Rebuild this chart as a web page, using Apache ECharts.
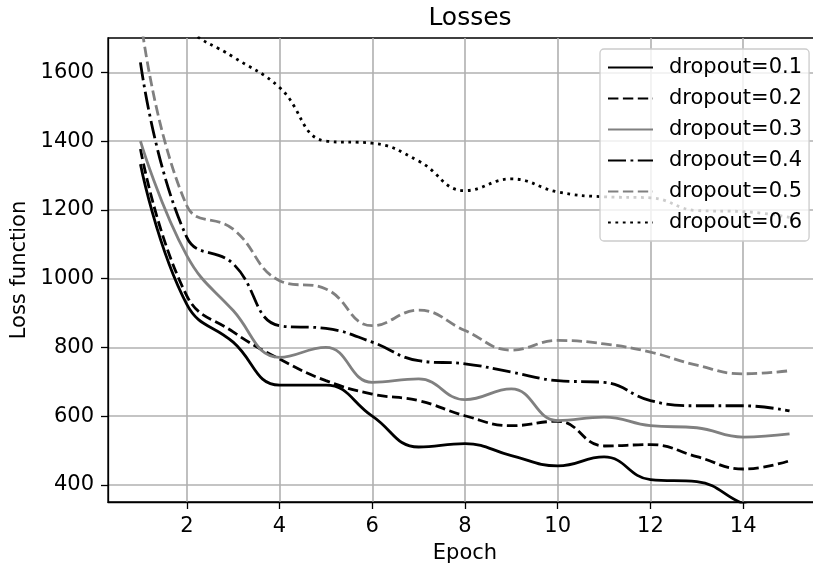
<!DOCTYPE html>
<html>
<head>
<meta charset="utf-8">
<script src="https://cdn.jsdelivr.net/npm/echarts@6/dist/echarts.min.js"></script>
<style>
  html, body { margin: 0; padding: 0; background: #fff; }
  #chart { width: 813px; height: 571px; }
</style>
</head>
<body>
<div id="chart"></div>
<script>
// values, one per epoch
const epochs = [1, 2, 3, 4, 5, 6, 7, 8, 9, 10, 11, 12, 13, 14, 15];
const loss01 = [1333, 925, 815, 690, 690, 600, 510, 520, 485, 455, 481, 415, 409, 345, 300];
const loss02 = [1377, 950, 845, 766, 703, 664, 645, 601, 572, 585, 513, 517, 482, 446, 470];
const loss03 = [1400, 1067, 907, 771, 800, 698, 708, 648, 679, 587, 597, 572, 566, 539, 548];
const loss04 = [1629, 1120, 1043, 863, 855, 815, 761, 752, 728, 703, 698, 645, 630, 630, 615];
const loss05 = [1760, 1212, 1144, 994, 970, 863, 908, 849, 792, 820, 810, 786, 748, 723, 732];
const loss06 = [1900, 1730, 1645, 1556, 1400, 1394, 1342, 1256, 1290, 1252, 1238, 1235, 1198, 1195, 1178];
const xTicks = [2, 4, 6, 8, 10, 12, 14];
const yTicks = [400, 600, 800, 1000, 1200, 1400, 1600];

const FONT = "DejaVu Sans";
const LW = 2.8;

function pairs(vals) {
    return epochs.map((e, i) => [e, vals[i]]);
}

function makeSeries(name, vals, color, dash) {
    return {
        name: name,
        type: 'line',
        data: pairs(vals),
        smooth: 0.45,
        symbol: 'none',
        clip: true,
        lineStyle: { color: color, width: LW, type: dash, cap: 'butt' },
        itemStyle: { color: color }
    };
}

const chart = echarts.init(document.getElementById('chart'));

const option = {
    animation: false,
    backgroundColor: '#fff',
    textStyle: { fontFamily: FONT },
    title: {
        text: 'Losses',
        left: 465,
        top: 1,
        textAlign: 'center',
        textStyle: { fontFamily: FONT, fontSize: 25, fontWeight: 'normal', color: '#000' }
    },
    grid: {
        left: 108,
        top: 38,
        width: 714,
        height: 464,
        show: true,
        borderColor: '#000',
        borderWidth: 1.3,
        backgroundColor: 'transparent',
        containLabel: false,
        outerBoundsMode: 'none'
    },
    legend: {
        orient: 'vertical',
        left: 600,
        top: 49,
        itemWidth: 45,
        itemHeight: 21,
        itemGap: 10,
        padding: [8, 7, 8, 7],
        backgroundColor: 'rgba(255,255,255,0.8)',
        borderColor: '#cccccc',
        borderWidth: 1.3,
        borderRadius: 4,
        // hide the marker circle, keep the line sample
        itemStyle: { color: 'rgba(0,0,0,0)', borderColor: 'rgba(0,0,0,0)', borderWidth: 0 },
        textStyle: { fontFamily: FONT, fontSize: 21, color: '#000', lineHeight: 21, padding: [0, 0, 0, 11] },
        data: ['dropout=0.1', 'dropout=0.2', 'dropout=0.3', 'dropout=0.4', 'dropout=0.5', 'dropout=0.6']
    },
    xAxis: {
        type: 'value',
        min: 0.3,
        max: 15.7,
        name: 'Epoch',
        nameLocation: 'middle',
        nameGap: 41,
        nameTextStyle: { fontFamily: FONT, fontSize: 21, color: '#000' },
        axisLine: { show: true, onZero: false, lineStyle: { color: '#000', width: 1.3 } },
        axisTick: { show: true, length: 7, customValues: xTicks, lineStyle: { color: '#000', width: 1.3 } },
        axisLabel: { customValues: xTicks, margin: 14, fontFamily: FONT, fontSize: 21, color: '#000' },
        splitLine: { show: true, lineStyle: { color: '#b0b0b0', width: 1.6 } }
    },
    yAxis: {
        type: 'value',
        min: 350,
        max: 1700,
        name: 'Loss function',
        nameLocation: 'middle',
        nameGap: 78,
        nameTextStyle: { fontFamily: FONT, fontSize: 21, color: '#000' },
        axisLine: { show: true, onZero: false, lineStyle: { color: '#000', width: 1.3 } },
        axisTick: { show: true, length: 7, customValues: yTicks, lineStyle: { color: '#000', width: 1.3 } },
        axisLabel: {
            customValues: yTicks, margin: 14, fontFamily: FONT, fontSize: 21, color: '#000',
            formatter: (v) => String(v)
        },
        splitLine: { show: true, lineStyle: { color: '#b0b0b0', width: 1.6 } }
    },
    series: [
        makeSeries('dropout=0.1', loss01, '#000000', 'solid'),
        makeSeries('dropout=0.2', loss02, '#000000', [10.4, 4.5]),
        makeSeries('dropout=0.3', loss03, '#808080', 'solid'),
        makeSeries('dropout=0.4', loss04, '#000000', [18, 4.5, 2.8, 4.5]),
        makeSeries('dropout=0.5', loss05, '#808080', [10.4, 4.5]),
        makeSeries('dropout=0.6', loss06, '#000000', [2.8, 4.6])
    ]
};

chart.setOption(option);
</script>
</body>
</html>
